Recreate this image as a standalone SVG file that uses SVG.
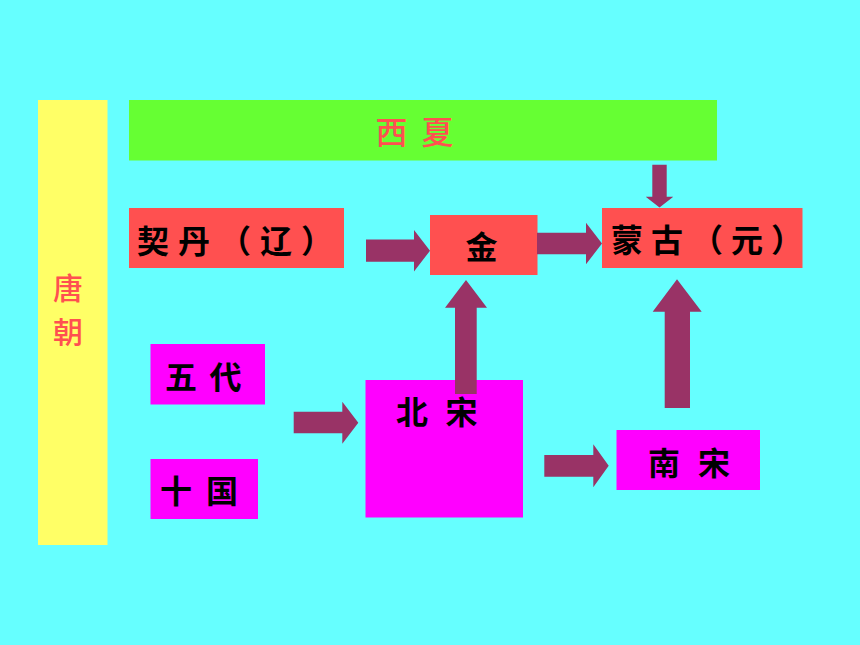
<svg xmlns="http://www.w3.org/2000/svg" width="860" height="645" viewBox="0 0 860 645">
<style>
.bg{fill:#66FFFF}
.yellow{fill:#FFFF66}
.green{fill:#66FF33}
.red{fill:#FF5050}
.mag{fill:#FF00FF}
.arrow{fill:#993366}
.lbl{font-family:"Noto Sans CJK SC","Noto Sans CJK TC",sans-serif;font-size:32px;font-weight:700;fill:#000000}
.rlbl{font-family:"Noto Sans CJK SC","Noto Sans CJK TC",sans-serif;font-size:32px;font-weight:500;fill:#FF5050}
</style>
<rect class="bg" x="0" y="0" width="860" height="645"/>
<g id="tang">
<rect class="yellow" x="38" y="100" width="69.5" height="445"/>
<text class="rlbl" x="68" y="299.4" text-anchor="middle" style="font-size:30px">唐</text>
<text class="rlbl" x="68" y="343.4" text-anchor="middle" style="font-size:30px">朝</text>
</g>
<g id="xixia">
<rect class="green" x="129" y="100" width="588" height="60.5"/>
<text class="rlbl" x="375.5" y="143.7" letter-spacing="14">西夏</text>
</g>
<g id="khitan">
<rect class="red" x="129" y="208" width="215" height="60"/>
<text class="lbl" x="137" y="253" letter-spacing="9">契丹（辽）</text>
</g>
<g id="jin">
<rect class="red" x="430" y="215" width="107.5" height="60"/>
<text class="lbl" x="481.5" y="258.7" text-anchor="middle">金</text>
</g>
<g id="mongol">
<rect class="red" x="602" y="208" width="200.5" height="60"/>
<text class="lbl" x="611" y="252" letter-spacing="8">蒙古（元）</text>
</g>
<g id="wudai">
<rect class="mag" x="150.5" y="344" width="114.5" height="60.5"/>
<text class="lbl" x="165" y="389" letter-spacing="12.5">五代</text>
</g>
<g id="shiguo">
<rect class="mag" x="150.5" y="459" width="107.5" height="60"/>
<text class="lbl" x="160" y="502.7" letter-spacing="14">十国</text>
</g>
<g id="beisong">
<rect class="mag" x="365.5" y="380" width="157.5" height="137.5"/>
<text class="lbl" x="396" y="423.7" letter-spacing="17.5">北宋</text>
</g>
<g id="nansong">
<rect class="mag" x="616.5" y="430" width="143.5" height="60"/>
<text class="lbl" x="648" y="475" letter-spacing="18">南宋</text>
</g>
<g id="connectors">
<polygon class="arrow" points="366,239.5 414,239.5 414,230 430,250.7 414,271.5 414,261.7 366,261.7"/>
<polygon class="arrow" points="537,232.7 586,232.7 586,222.7 602,243.5 586,264.3 586,254.3 537,254.3"/>
<polygon class="arrow" points="652.3,164.7 666.7,164.7 666.7,196.7 673.3,196.7 659.5,207.5 645.7,196.7 652.3,196.7"/>
<polygon class="arrow" points="455,394 455,307.7 445,307.7 466,280 487,307.7 476.7,307.7 476.7,394"/>
<polygon class="arrow" points="664.7,408 664.7,311.7 652.7,311.7 677,279.3 701.7,311.7 690,311.7 690,408"/>
<polygon class="arrow" points="293.7,411.7 342.3,411.7 342.3,401.7 358.3,422.7 342.3,443.7 342.3,433.3 293.7,433.3"/>
<polygon class="arrow" points="544.3,455 593.3,455 593.3,444.3 608.7,465.8 593.3,487.3 593.3,476.7 544.3,476.7"/>
</g>
</svg>
